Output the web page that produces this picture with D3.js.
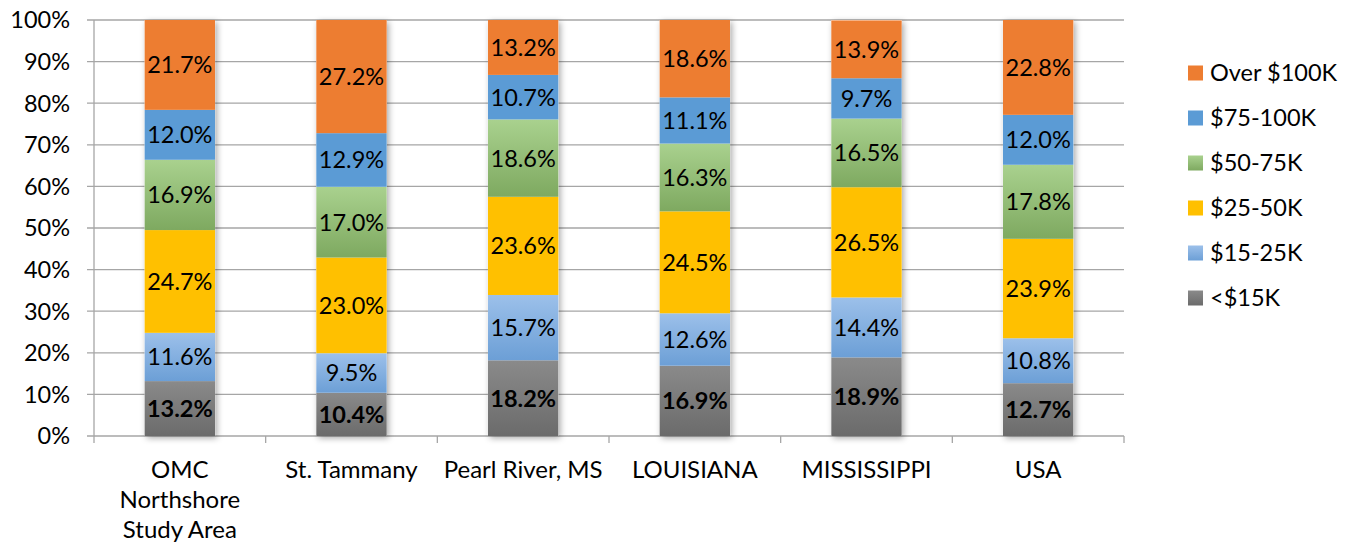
<!DOCTYPE html>
<html>
<head>
    <meta charset="UTF-8">
    <title>Household Income</title>
    <script src="https://d3js.org/d3.v7.min.js"></script>
    <style>
        body { margin: 0; background: #fff; }
        text { font-family: Lato, "Open Sans", sans-serif; fill: #000; }
    </style>
</head>
<body>
    <svg class="chart"></svg>

    <script>
    // data
    const areas = ["OMC|Northshore|Study Area", "St. Tammany", "Pearl River, MS", "LOUISIANA", "MISSISSIPPI", "USA"];
    const brackets = ["<$15K", "$15-25K", "$25-50K", "$50-75K", "$75-100K", "Over $100K"];
    const under15 = [13.2, 10.4, 18.2, 16.9, 18.9, 12.7];
    const b15to25 = [11.6, 9.5, 15.7, 12.6, 14.4, 10.8];
    const b25to50 = [24.7, 23.0, 23.6, 24.5, 26.5, 23.9];
    const b50to75 = [16.9, 17.0, 18.6, 16.3, 16.5, 17.8];
    const b75to100 = [12.0, 12.9, 10.7, 11.1, 9.7, 12.0];
    const over100 = [21.7, 27.2, 13.2, 18.6, 13.9, 22.8];
    const yTicks = [0, 10, 20, 30, 40, 50, 60, 70, 80, 90, 100];

    const series = [under15, b15to25, b25to50, b50to75, b75to100, over100];
    // top, bottom colour of each segment's gradient
    const colors = [
        ["#8a8a8a", "#6b6b6b"],
        ["#9cc0ea", "#6c9fd6"],
        ["#ffc000", "#ffc000"],
        ["#a9d18e", "#7ea960"],
        ["#5b9bd5", "#5b9bd5"],
        ["#ed7d31", "#ed7d31"]
    ];

    const width = 1346, height = 548;
    const margins = {top: 20, bottom: 112, left: 94, right: 222};
    const innerW = width - margins.left - margins.right;
    const innerH = height - margins.top - margins.bottom;
    const fontSize = "23.5px";

    const svg = d3.select(".chart")
        .attr("width", width)
        .attr("height", height);

    const defs = svg.append("defs");
    colors.forEach((c, i) => {
        const g = defs.append("linearGradient")
            .attr("id", "grad" + i)
            .attr("x1", 0).attr("y1", 0).attr("x2", 0).attr("y2", 1);
        g.append("stop").attr("offset", "0%").attr("stop-color", c[0]);
        g.append("stop").attr("offset", "100%").attr("stop-color", c[1]);
    });
    const shadow = defs.append("filter").attr("id", "shadow")
        .attr("x", "-20%").attr("y", "-5%").attr("width", "140%").attr("height", "110%");
    shadow.append("feDropShadow")
        .attr("dx", 2).attr("dy", 2).attr("stdDeviation", 3)
        .attr("flood-color", "#000").attr("flood-opacity", 0.35);

    const chart = svg.append("g")
        .attr("transform", `translate(${margins.left}, ${margins.top})`);

    const x_scale = d3.scaleBand()
        .domain(areas)
        .range([0, innerW])
        .paddingInner(0.59)
        .paddingOuter(0.295);

    const y_scale = d3.scaleLinear()
        .domain([0, 100])
        .range([innerH, 0])
        .clamp(true);

    // gridlines
    chart.selectAll(".grid")
        .data(yTicks).enter().append("line")
        .attr("x1", -7).attr("x2", innerW)
        .attr("y1", d => y_scale(d)).attr("y2", d => y_scale(d))
        .style("stroke", "#a6a6a6")
        .style("stroke-width", 1.3);

    // y axis line
    chart.append("line")
        .attr("x1", 0).attr("x2", 0)
        .attr("y1", 0).attr("y2", innerH)
        .style("stroke", "#a6a6a6").style("stroke-width", 1.3);

    // y tick labels
    chart.selectAll(".ylab")
        .data(yTicks).enter().append("text")
        .attr("x", -24)
        .attr("y", d => y_scale(d))
        .attr("dy", "0.36em")
        .attr("text-anchor", "end")
        .style("font-size", fontSize)
        .text(d => d + "%");

    // x tick marks
    const xTickPos = d3.range(areas.length + 1).map(i => i * innerW / areas.length);
    chart.selectAll(".xtick")
        .data(xTickPos).enter().append("line")
        .attr("x1", d => d).attr("x2", d => d)
        .attr("y1", innerH).attr("y2", innerH + 7)
        .style("stroke", "#a6a6a6").style("stroke-width", 1.3);

    // stacked bars
    const rows = areas.map((a, i) => {
        const r = {area: a};
        series.forEach((s, k) => r[k] = s[i]);
        return r;
    });
    const stacked = d3.stack().keys(d3.range(series.length))(rows);

    const bars = chart.append("g");
    // shadow layer under the bars
    bars.selectAll(".shadowbar")
        .data(areas).enter().append("rect")
        .attr("x", d => x_scale(d))
        .attr("y", y_scale(100))
        .attr("width", x_scale.bandwidth())
        .attr("height", innerH - y_scale(100))
        .style("fill", "#fff")
        .attr("filter", "url(#shadow)");

    stacked.forEach((layer, k) => {
        bars.selectAll(".seg" + k)
            .data(layer).enter().append("rect")
            .attr("x", d => x_scale(d.data.area))
            .attr("y", d => y_scale(d[1]))
            .attr("width", x_scale.bandwidth())
            .attr("height", d => y_scale(d[0]) - y_scale(d[1]))
            .style("fill", `url(#grad${k})`);

        bars.selectAll(".lab" + k)
            .data(layer).enter().append("text")
            .attr("x", d => x_scale(d.data.area) + x_scale.bandwidth() / 2)
            .attr("y", d => (y_scale(d[0]) + y_scale(Math.min(d[1], 100))) / 2)
            .attr("dy", "0.36em")
            .attr("text-anchor", "middle")
            .style("font-size", fontSize)
            .style("font-weight", k === 0 ? "bold" : "normal")
            .text(d => (d[1] - d[0]).toFixed(1) + "%");
    });

    // x labels
    const xlab = chart.selectAll(".xlab")
        .data(areas).enter().append("text")
        .attr("text-anchor", "middle")
        .attr("transform", d => `translate(${x_scale(d) + x_scale.bandwidth() / 2}, ${innerH + 42})`)
        .style("font-size", "24px");
    xlab.selectAll("tspan")
        .data(d => d.split("|")).enter().append("tspan")
        .attr("x", 0)
        .attr("y", (d, i) => i * 30)
        .text(d => d);

    // legend, top item is the last series
    const legend = svg.append("g")
        .attr("transform", "translate(1188, 73)");
    const legItems = legend.selectAll("g")
        .data(d3.range(series.length).reverse()).enter().append("g")
        .attr("transform", (d, i) => `translate(0, ${i * 45})`);
    legItems.append("rect")
        .attr("x", 0).attr("y", -7.5)
        .attr("width", 15).attr("height", 15)
        .style("fill", d => `url(#grad${d})`);
    legItems.append("text")
        .attr("x", 22)
        .attr("dy", "0.36em")
        .style("font-size", fontSize)
        .text(d => brackets[d]);
    </script>
</body>
</html>
